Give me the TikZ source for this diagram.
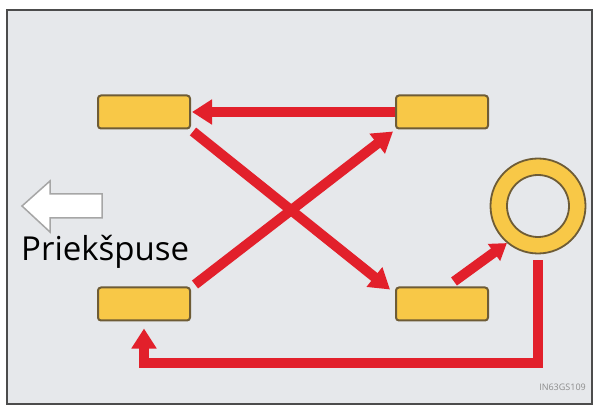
\documentclass[tikz,border=0pt]{standalone}
\usepackage{fontspec}
\setmainfont{Open Sans}
\usetikzlibrary{arrows.meta, positioning}
\definecolor{tyrefill}{HTML}{F8C847}
\definecolor{tyreline}{HTML}{6E5C36}
\definecolor{swapred}{HTML}{E2202B}
\definecolor{panel}{HTML}{E6E8EB}

\begin{document}
\begin{tikzpicture}[x=1pt, y=-1pt]
\tikzset{tyre/.style={draw=tyreline, fill=tyrefill, line width=2pt, rounded corners=3pt,
                      minimum width=92pt, minimum height=33pt, inner sep=0pt},
         swap/.style={draw=swapred, line width=10pt, -{Triangle[length=20pt, width=24pt]}}}
  \useasboundingbox (0,0) rectangle (598,409);
  \draw[fill=panel, draw=black!70, line width=1.2pt] (7,10) rectangle (592,404);

  % tyres
  \node[tyre] (fl) at (144,112) {};
  \node[tyre] (fr) at (442,112) {};
  \node[tyre] (rl) at (144,304) {};
  \node[tyre] (rr) at (442,304) {};
  \node[circle, draw=tyreline, fill=tyrefill, line width=1.8pt, minimum size=95pt] (spare) at (538,206) {};
  \node[circle, draw=tyreline, fill=panel, line width=1.8pt, minimum size=62pt] (hole) at (spare.center) {};
  \coordinate (turn) at (538,363);

  \draw[swap] (fr.west) -- ([xshift=1pt]fl.east);
  \draw[swap] ([xshift=2pt,yshift=-2pt]fl.south east) -- ([xshift=-5pt,yshift=-3pt]rr.north west);
  \draw[swap] ([xshift=4pt,yshift=2pt]rl.north east) -- ([xshift=-2pt,yshift=-2pt]fr.south west);
  \draw[swap, -{Triangle[length=16pt, width=20pt]}] ([xshift=12pt,yshift=5pt]rr.north) -- (spare.230);
  \draw[swap] ([yshift=-6pt]spare.south) -- (turn) -| ([yshift=-7pt]rl.south);

  % front
  \node[inner sep=0pt, anchor=base west, font=\fontsize{33}{33}\selectfont] (front) at (21,261) {Priekšpuse};
  \draw[fill=white, draw=black!35, line width=1.5pt]
    (102,194) -- (50,194) -- (50,181) -- (22,206) -- (50,232) -- (50,218) -- (102,218) -- cycle;
  \node[inner sep=0pt, text=black!45, font=\fontsize{9}{9}\selectfont, anchor=east] (code) at (586,387) {IN63GS109};
\end{tikzpicture}
\end{document}
